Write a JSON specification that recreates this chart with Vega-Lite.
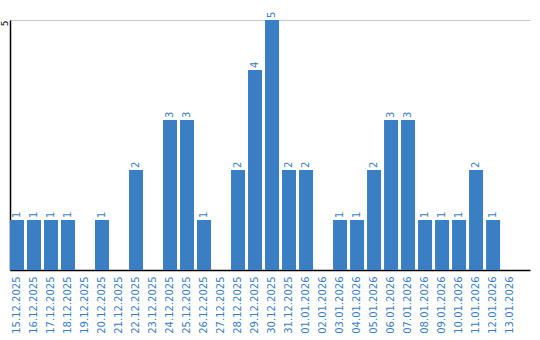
{
  "$schema": "https://vega.github.io/schema/vega-lite/v6.json",
  "width": 520,
  "height": 250,
  "autosize": "none",
  "padding": {"left": 10, "top": 20, "right": 10, "bottom": 70},
  "config": {"view": {"stroke": null}, "font": "DejaVu Sans"},
  "data": {"values": [
    {"date": "15.12.2025", "count": 1},
    {"date": "16.12.2025", "count": 1},
    {"date": "17.12.2025", "count": 1},
    {"date": "18.12.2025", "count": 1},
    {"date": "19.12.2025", "count": 0},
    {"date": "20.12.2025", "count": 1},
    {"date": "21.12.2025", "count": 0},
    {"date": "22.12.2025", "count": 2},
    {"date": "23.12.2025", "count": 0},
    {"date": "24.12.2025", "count": 3},
    {"date": "25.12.2025", "count": 3},
    {"date": "26.12.2025", "count": 1},
    {"date": "27.12.2025", "count": 0},
    {"date": "28.12.2025", "count": 2},
    {"date": "29.12.2025", "count": 4},
    {"date": "30.12.2025", "count": 5},
    {"date": "31.12.2025", "count": 2},
    {"date": "01.01.2026", "count": 2},
    {"date": "02.01.2026", "count": 0},
    {"date": "03.01.2026", "count": 1},
    {"date": "04.01.2026", "count": 1},
    {"date": "05.01.2026", "count": 2},
    {"date": "06.01.2026", "count": 3},
    {"date": "07.01.2026", "count": 3},
    {"date": "08.01.2026", "count": 1},
    {"date": "09.01.2026", "count": 1},
    {"date": "10.01.2026", "count": 1},
    {"date": "11.01.2026", "count": 2},
    {"date": "12.01.2026", "count": 1},
    {"date": "13.01.2026", "count": 0}
  ]},
  "encoding": {
    "x": {
      "field": "date", "type": "ordinal", "sort": null,
      "scale": {"paddingInner": 0.176, "paddingOuter": 0.38, "align": 0},
      "axis": {"title": null, "labelAngle": -90, "labelAlign": "right", "labelBaseline": "middle",
               "labelColor": "#3a7ec3", "labelFontSize": 10, "ticks": false, "labelPadding": 6,
               "domainColor": "#000000", "domainWidth": 1.5, "grid": false}
    },
    "y": {
      "field": "count", "type": "quantitative",
      "scale": {"domain": [0, 5], "nice": false},
      "axis": {"title": null, "values": [5], "labelAngle": -90, "labelAlign": "right", "labelBaseline": "bottom",
               "labelFlush": false, "labelFontSize": 9, "labelColor": "#000000", "ticks": false, "labelPadding": 1,
               "domainColor": "#000000", "domainWidth": 1.5, "grid": true, "gridColor": "#c8c8c8"}
    }
  },
  "layer": [
    {"mark": {"type": "bar", "color": "#3a7ec3"}},
    {
      "transform": [{"filter": "datum.count > 0"}],
      "mark": {"type": "text", "angle": 270, "align": "left", "baseline": "middle", "dx": 2, "fontSize": 10, "color": "#3a7ec3"},
      "encoding": {"text": {"field": "count", "type": "quantitative"}}
    }
  ]
}
